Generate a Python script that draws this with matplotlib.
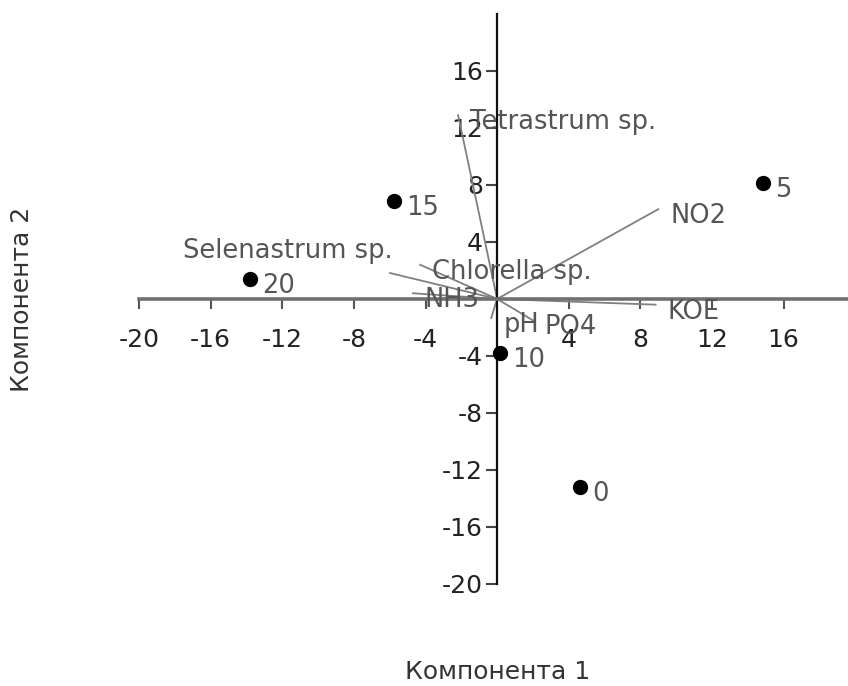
import matplotlib
matplotlib.use('Agg')
import matplotlib.pyplot as plt

plt.rcParams['font.family'] = ['DejaVu Sans']

# object scores
obj_names = ['0', '5', '10', '15', '20']
obj_x = [4.64, 14.86, 0.17, -5.75, -13.8]
obj_y = [-13.2, 8.14, -3.79, 6.88, 1.40]

# variable loadings
var_names = ['Tetrastrum sp.', 'NO2', 'Selenastrum sp.', 'Chlorella sp.',
             'NH3', 'pH', 'PO4', 'KOE']
var_x = [-2.18, 9.0, -5.98, -4.3, -4.7, -0.33, 2.0, 8.85]
var_y = [12.9, 6.3, 1.82, 2.4, 0.4, -1.33, -1.5, -0.4]

ticks = [-20, -16, -12, -8, -4, 4, 8, 12, 16]

fig = plt.figure(figsize=(8.48, 6.86), dpi=100)
ax = fig.add_axes([0, 0, 1, 1])
ax.set_xlim(-27.77, 19.6)
ax.set_ylim(-27.16, 20.98)

for s in ['top', 'right']:
    ax.spines[s].set_visible(False)
ax.spines['bottom'].set_position(('data', 0))
ax.spines['left'].set_position(('data', 0))
ax.spines['bottom'].set_bounds(-20, 20)
ax.spines['left'].set_bounds(-20, 20)
ax.spines['bottom'].set_color('#707070')
ax.spines['bottom'].set_linewidth(2.6)
ax.spines['left'].set_color('#111111')
ax.spines['left'].set_linewidth(1.6)

ax.set_xticks(ticks)
ax.set_yticks(ticks)
ax.set_xticklabels([str(t) for t in ticks])
ax.set_yticklabels([str(t) for t in ticks])
ax.tick_params(axis='x', direction='out', length=7, width=1.5, color='#555555',
               labelsize=18, labelcolor='#222222', pad=14)
ax.tick_params(axis='y', direction='out', length=8, width=1.5, color='#444444',
               labelsize=18, labelcolor='#222222', pad=2)

# vectors
for name, vx, vy in zip(var_names, var_x, var_y):
    ax.plot([0, vx], [0, vy], color='#808080', lw=1.3, zorder=2)
    if name == 'Selenastrum sp.':
        ax.annotate(name, (vx, vy), xytext=(3, 22), textcoords='offset pixels',
                    ha='right', va='center', fontsize=18.5, color='#555555')
    else:
        ax.annotate(name, (vx, vy), xytext=(12, -7), textcoords='offset pixels',
                    ha='left', va='center', fontsize=18.5, color='#555555')

# objects
ax.plot(obj_x, obj_y, 'o', color='black', markersize=10, zorder=3)
for name, px, py in zip(obj_names, obj_x, obj_y):
    ax.annotate(name, (px, py), xytext=(12, -7), textcoords='offset pixels',
                ha='left', va='center', fontsize=18.5, color='#555555')

fig.text(498 / 848, 1 - 672 / 686, 'Компонента 1', ha='center', va='center',
         fontsize=18, color='#333333')
fig.text(22 / 848, 1 - 299 / 686, 'Компонента 2', ha='center', va='center',
         rotation=90, fontsize=18, color='#333333')

fig.savefig('out.png', dpi=100)
